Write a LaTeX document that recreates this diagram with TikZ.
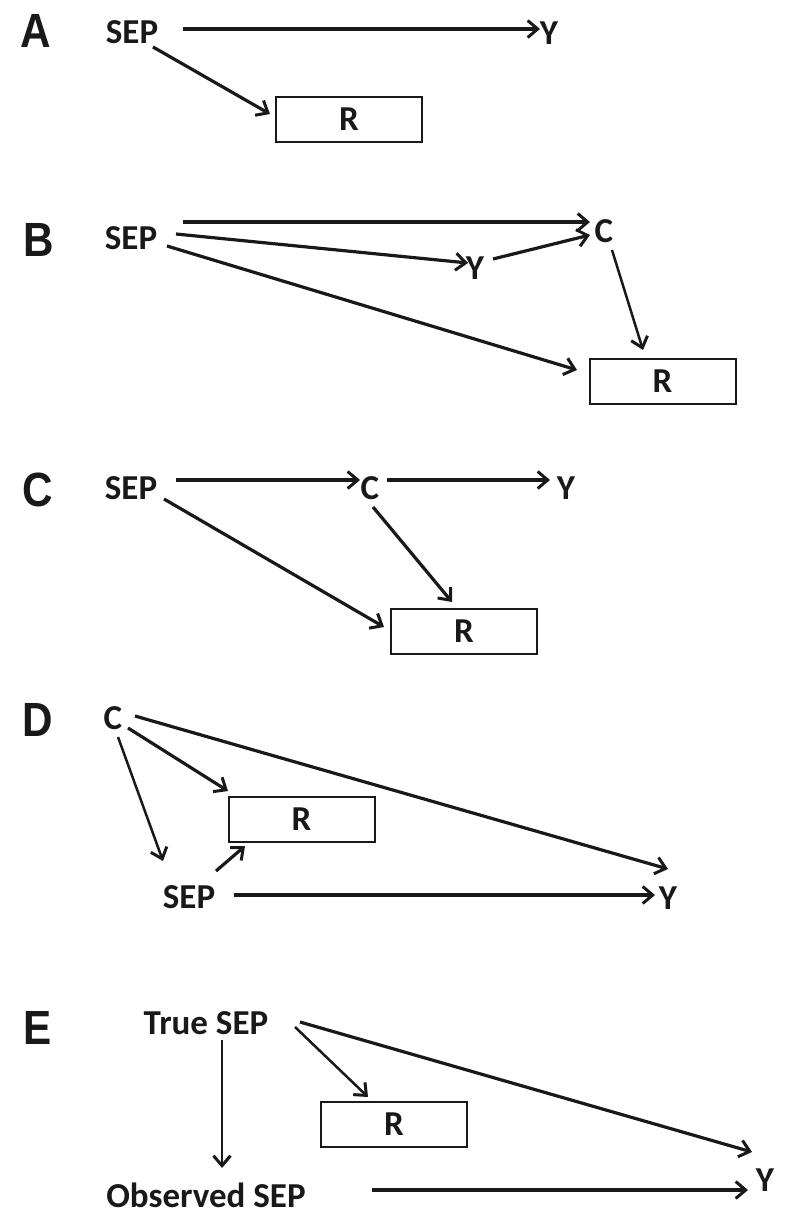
\documentclass[tikz,border=0pt]{standalone}
\usepackage{fontspec}
\setmainfont{Carlito}
\newfontfamily\panelfont{Liberation Sans}
\usetikzlibrary{arrows.meta,calc}
\tikzset{
  lbl/.style={font=\fontsize{35}{38}\selectfont\bfseries, inner sep=0pt, text=black!90},
  panel/.style={font=\panelfont\fontsize{48}{50}\selectfont\bfseries, inner sep=0pt, xscale=0.88, text=black!90},
  rbox/.style={draw=black!90, line width=2pt, minimum width=146pt, minimum height=45pt, inner sep=0pt, font=\fontsize{35}{38}\selectfont\bfseries, text=black!90},
  conn/.style={draw=black!90, line width=3.2pt, -{Straight Barb[length=10pt,width=17pt,line width=3pt]}},
  thin conn/.style={conn, line width=2.5pt}
}
\begin{document}
\begin{tikzpicture}[x=1pt,y=-1pt]
\useasboundingbox (0,0) rectangle (800,1220);
% Panel A
\node[panel] (pA) at (36,31) {A};
\node[lbl] (sepA) at (132,32) {SEP};
\node[lbl] (yA) at (549,33) {Y};
\node[rbox] (RA) at (349,119.5) {R};
\draw[conn] ($(sepA)+(51,-3)$) -- ($(yA)+(-9,-4)$);
\draw[conn] ($(sepA)+(21,15)$) -- ($(RA)+(-79,-5.5)$);
% Panel B
\node[panel] (pB) at (39,240) {B};
\node[lbl] (sepB) at (131,238) {SEP};
\node[lbl] (cB) at (604,231) {C};
\node[lbl] (yB) at (475,268) {Y};
\node[rbox] (RB) at (662.5,381) {R};
\draw[conn] ($(sepB)+(52,-16)$) -- ($(cB)+(-14,-9)$);
\draw[conn] ($(sepB)+(45,-4)$) -- ($(yB)+(-7,-5)$);
\draw[conn] ($(yB)+(18,-9)$) -- ($(cB)+(-14,4)$);
\draw[conn] ($(sepB)+(36,8)$) -- ($(RB)+(-85.5,-11)$);
\draw[thin conn] ($(cB)+(8,19)$) -- ($(RB)+(-19.5,-31)$);
% Panel C
\node[panel] (pC) at (38,490) {C};
\node[lbl] (sepC) at (131,488) {SEP};
\node[lbl] (cC) at (370,488) {C};
\node[lbl] (yC) at (566,488) {Y};
\node[rbox] (RC) at (464,631.5) {R};
\draw[conn] ($(sepC)+(45,-8)$) -- ($(cC)+(-10,-8)$);
\draw[conn] ($(cC)+(17,-8)$) -- ($(yC)+(-16,-8)$);
\draw[conn] ($(sepC)+(33,11)$) -- ($(RC)+(-80,-4.5)$);
\draw[conn] ($(cC)+(3,19)$) -- ($(RC)+(-12,-29.5)$);
% Panel D
\node[panel] (pD) at (38,720) {D};
\node[lbl] (cD) at (113,718) {C};
\node[rbox] (RD) at (301.5,819) {R};
\node[lbl] (sepD) at (189,897) {SEP};
\node[lbl] (yD) at (668,898) {Y};
\draw[conn] ($(cD)+(22,-2)$) -- ($(yD)+(0,-29)$);
\draw[conn] ($(cD)+(15,10)$) -- ($(RD)+(-73.5,-28)$);
\draw[thin conn] ($(cD)+(5,19)$) -- ($(sepD)+(-26,-36)$);
\draw[conn] ($(sepD)+(27,-26)$) -- ($(RD)+(-56.5,27)$);
\draw[conn] ($(sepD)+(45,-2)$) -- ($(yD)+(-13,-3)$);
% Panel E
\node[panel] (pE) at (38,1028) {E};
\node[lbl] (tsE) at (206,1023) {True SEP};
\node[lbl] (osE) at (206,1195) {Observed SEP};
\node[rbox] (RE) at (394,1124.5) {R};
\node[lbl] (yE) at (765,1180) {Y};
\draw[thin conn] ($(tsE)+(16,17)$) -- ($(osE)+(16,-27)$);
\draw[thin conn] ($(tsE)+(89,4)$) -- ($(RE)+(-26,-27.5)$);
\draw[conn] ($(tsE)+(94,-1)$) -- ($(yE)+(-13,-28)$);
\draw[conn] ($(osE)+(166,-5)$) -- ($(yE)+(-17,10)$);
\end{tikzpicture}
\end{document}
